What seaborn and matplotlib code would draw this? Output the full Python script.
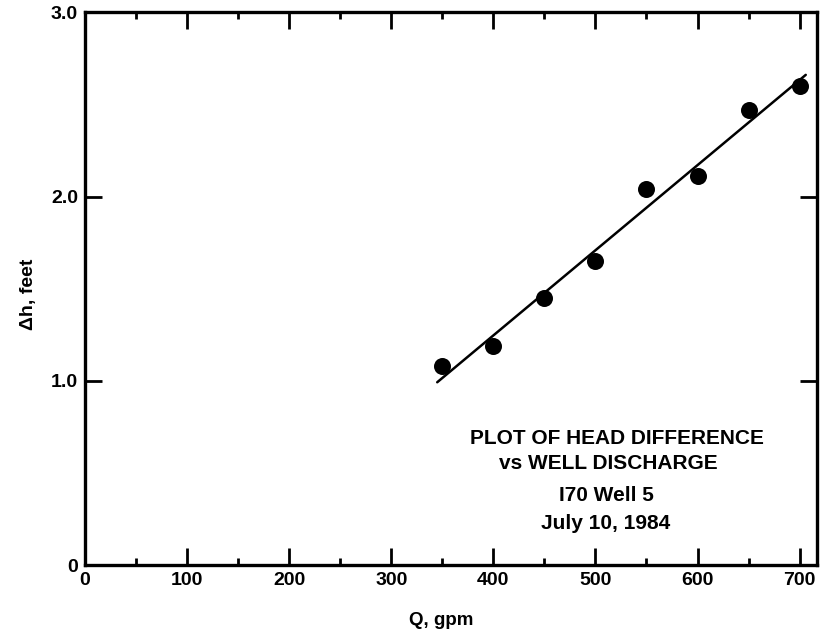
import numpy as np
import pandas as pd
import matplotlib
matplotlib.use("Agg")
import matplotlib.pyplot as plt
import seaborn as sns

# Data
discharge_gpm = [350, 400, 450, 500, 550, 600, 650, 700]
head_diff_ft = [1.08, 1.19, 1.45, 1.65, 2.04, 2.11, 2.47, 2.60]
fit_range = [345, 706]
x_ticks = [0, 100, 200, 300, 400, 500, 600, 700]
x_minor = [50, 150, 250, 350, 450, 550, 650]
y_ticks = [0, 1.0, 2.0, 3.0]
y_tick_labels = ["0", "1.0", "2.0", "3.0"]
notes = ["PLOT OF HEAD DIFFERENCE", "vs WELL DISCHARGE", "I70 Well 5", "July 10, 1984"]

sns.set_style("ticks")
plt.rcParams["font.family"] = ["Liberation Sans", "DejaVu Sans"]
plt.rcParams["text.color"] = "black"
plt.rcParams["axes.labelcolor"] = "black"
plt.rcParams["xtick.color"] = "black"
plt.rcParams["ytick.color"] = "black"

df = pd.DataFrame({"Q": discharge_gpm, "dh": head_diff_ft})
slope, intercept = np.polyfit(discharge_gpm, head_diff_ft, 1)
fit_df = pd.DataFrame({"Q": fit_range, "dh": [slope * q + intercept for q in fit_range]})

fig = plt.figure(figsize=(8.22, 6.35), dpi=100)
ax = fig.add_axes([0.1034, 0.1102, 0.8905, 0.8705])

sns.lineplot(data=fit_df, x="Q", y="dh", ax=ax, color="black", linewidth=1.8)
sns.scatterplot(data=df, x="Q", y="dh", ax=ax, color="black", s=150, edgecolor="black", linewidth=0, zorder=3)

ax.set_xlim(0, 717)
ax.set_ylim(0, 3.0)
ax.set_xticks(x_ticks)
ax.set_xticks(x_minor, minor=True)
ax.set_xticklabels([str(v) for v in x_ticks], fontsize=14, fontweight="bold")
ax.set_yticks(y_ticks)
ax.set_yticklabels(y_tick_labels, fontsize=14, fontweight="bold")

ax.tick_params(axis="both", which="major", direction="in", length=12, width=2, pad=5,
               top=True, right=True)
ax.tick_params(axis="x", which="minor", direction="in", length=5, width=2, top=True)

for sp in ax.spines.values():
    sp.set_visible(True)
    sp.set_linewidth(2.4)
    sp.set_color("black")

ax.set_xlabel("Q, gpm", fontsize=13.5, fontweight="bold")
ax.set_ylabel("Δh, feet", fontsize=14, fontweight="bold")
ax.xaxis.set_label_coords(0.487, -0.085)
ax.yaxis.set_label_coords(-0.066, 0.49)

ys = [0.686, 0.551, 0.378, 0.227]
xs = [521, 513, 511, 510]
for t, xq, yv in zip(notes, xs, ys):
    ax.text(xq, yv, t, ha="center", va="center", fontsize=15, fontweight="bold")

fig.savefig("out.png", dpi=100)
